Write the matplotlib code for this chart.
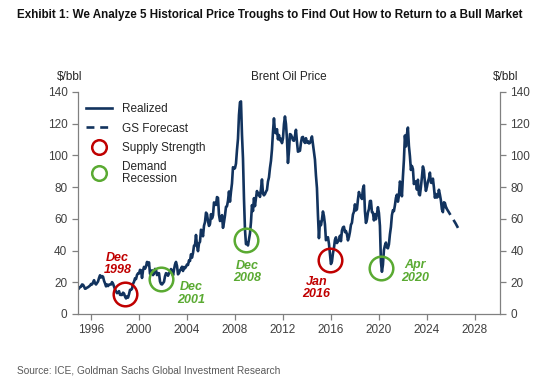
import numpy as np
import matplotlib.pyplot as plt
from matplotlib.lines import Line2D

# monthly Brent, Jan 1995 onwards ($/bbl)
brent_monthly = [
    16.2, 17.0, 17.2, 18.6, 18.4, 17.3, 15.9, 16.1, 16.6, 16.9, 17.4, 17.9,  # 1995
    18.9, 18.6, 19.8, 21.3, 19.3, 18.6, 19.6, 20.5, 22.7, 24.4, 23.0, 23.9,  # 1996
    23.5, 20.9, 19.3, 17.4, 18.6, 17.6, 18.5, 18.6, 18.6, 20.1, 19.1, 17.4,  # 1997
    15.5, 14.3, 13.1, 13.5, 14.4, 12.1, 12.0, 12.0, 13.4, 12.9, 11.0, 9.8,   # 1998
    11.1, 10.3, 12.5, 15.2, 15.2, 15.9, 19.0, 20.3, 22.5, 22.0, 24.6, 25.6,  # 1999
    25.5, 27.8, 27.5, 22.7, 27.4, 29.7, 28.5, 29.9, 32.8, 30.9, 32.5, 25.3,  # 2000
    25.6, 27.5, 24.5, 25.7, 28.4, 27.7, 24.5, 25.7, 25.7, 20.5, 18.9, 18.6,  # 2001
    19.4, 20.3, 23.7, 25.7, 25.4, 24.1, 25.7, 26.6, 28.3, 27.5, 24.3, 28.0,  # 2002
    31.2, 32.8, 30.3, 25.0, 25.8, 27.6, 28.4, 29.8, 27.1, 29.6, 28.8, 29.8,  # 2003
    31.2, 30.9, 33.8, 33.4, 37.6, 35.5, 38.4, 43.0, 43.3, 49.8, 43.1, 39.6,  # 2004
    44.5, 45.5, 53.1, 51.9, 49.0, 55.6, 57.9, 63.9, 63.0, 58.5, 55.5, 56.7,  # 2005
    62.9, 60.2, 62.1, 70.3, 69.8, 68.7, 73.7, 73.2, 62.5, 58.6, 59.3, 62.3,  # 2006
    54.3, 57.8, 62.1, 67.5, 67.9, 71.3, 77.2, 70.8, 77.1, 82.3, 92.5, 91.5,  # 2007
    91.9, 94.8, 103.3, 110.4, 125.4, 133.5, 134.0, 113.0, 98.1, 72.8, 53.2, 44.0,  # 2008
    44.9, 43.2, 46.8, 50.8, 57.9, 68.6, 64.9, 73.0, 68.0, 73.1, 77.5, 75.0,  # 2009
    76.2, 73.8, 78.8, 84.8, 75.9, 74.8, 75.6, 77.1, 78.2, 83.5, 86.1, 92.0,  # 2010
    96.5, 103.7, 114.6, 123.3, 114.5, 113.9, 116.5, 110.1, 112.8, 109.5, 110.5, 107.7,  # 2011
    110.6, 119.7, 124.5, 119.8, 110.3, 95.2, 102.6, 113.4, 113.0, 111.5, 109.5, 109.2,  # 2012
    112.3, 116.1, 108.5, 102.3, 102.6, 102.9, 107.9, 111.3, 111.6, 109.1, 107.8, 110.8,  # 2013
    108.1, 108.9, 107.5, 107.8, 109.7, 111.9, 106.9, 101.9, 97.3, 87.3, 79.4, 62.3,  # 2014
    47.8, 58.1, 55.9, 59.5, 64.6, 61.7, 56.5, 46.5, 47.6, 48.4, 44.3, 38.0,  # 2015
    31.5, 33.0, 38.2, 41.6, 46.7, 48.3, 44.7, 45.7, 46.6, 49.3, 45.9, 52.6,  # 2016
    54.6, 55.0, 51.6, 52.3, 50.3, 46.4, 48.5, 51.7, 56.2, 57.5, 62.7, 64.4,  # 2017
    69.1, 65.3, 66.0, 72.1, 76.9, 74.4, 74.3, 72.5, 78.9, 81.0, 64.8, 57.4,  # 2018
    59.4, 64.0, 66.1, 71.2, 71.3, 64.2, 63.9, 59.0, 62.8, 59.7, 63.2, 67.3,  # 2019
    63.7, 55.5, 33.0, 26.6, 31.0, 40.3, 43.2, 45.0, 41.9, 41.4, 43.9, 50.2,  # 2020
    54.8, 62.3, 65.4, 64.8, 68.5, 73.2, 75.2, 70.8, 74.5, 83.5, 81.1, 74.2,  # 2021
    86.5, 97.1, 112.5, 105.6, 113.3, 117.5, 105.9, 99.5, 90.8, 93.3, 91.4, 81.9,  # 2022
    83.5, 83.6, 78.4, 84.6, 75.5, 74.8, 80.1, 86.2, 93.0, 90.6, 82.9, 77.6,  # 2023
    80.1, 83.5, 85.4, 89.1, 82.8, 82.6, 85.3, 79.9, 73.3, 75.6, 73.4, 73.9,  # 2024
    78.3, 75.2, 71.6, 66.0, 64.2, 70.4, 70.0, 67.5,  # 2025
]
forecast_years = [2025.6, 2026.0, 2026.4, 2026.75]
forecast_values = [67.0, 62.0, 57.0, 52.0]

trough_labels = ["Dec\n1998", "Dec\n2001", "Dec\n2008", "Jan\n2016", "Apr\n2020"]
trough_kind = ["supply", "demand", "demand", "supply", "demand"]
trough_years = [1998.87, 2001.85, 2008.94, 2015.9, 2020.15]
trough_values = [12.6, 21.9, 46.7, 34.0, 28.8]
label_years = [1998.2, 2004.35, 2009.05, 2014.8, 2023.0]
label_values = [31.5, 13.0, 26.5, 16.4, 26.8]

NAVY = "#12335e"
RED = "#c00000"
GREEN = "#5aaa32"
GREY = "#808080"
TXT = "#404040"

plt.rcParams["font.family"] = ["Liberation Sans", "DejaVu Sans"]

years = 1995 + np.arange(len(brent_monthly)) / 12

fig = plt.figure(figsize=(5.6, 3.91), dpi=100)
ax = fig.add_axes([0.139, 0.197, 0.754, 0.568])

ax.plot(years, brent_monthly, color=NAVY, lw=1.9, solid_joinstyle="round")
ax.plot([years[-1]] + forecast_years, [brent_monthly[-1]] + forecast_values,
        color=NAVY, lw=1.9, ls=(0, (3.5, 2.2)))

for x, y, k in zip(trough_years, trough_values, trough_kind):
    ax.plot(x, y, "o", ms=17, mfc="none", mec=RED if k == "supply" else GREEN, mew=1.8)
for x, y, t, k in zip(label_years, label_values, trough_labels, trough_kind):
    ax.text(x, y, t, ha="center", va="center", fontsize=9, fontweight="bold",
            style="italic", color=RED if k == "supply" else GREEN, linespacing=1.05)

ax.set_xlim(1994.9, 2030.1)
ax.set_ylim(0, 140)
ax.set_xticks(range(1996, 2029, 4))
ax.set_yticks(range(0, 141, 20))
ax.spines["top"].set_visible(False)
for s in ("left", "right", "bottom"):
    ax.spines[s].set_color(GREY)
    ax.spines[s].set_linewidth(0.9)
ax.tick_params(colors=GREY, labelcolor=TXT, labelsize=8.5, length=4, width=0.9)
ax.tick_params(axis="y", right=True, labelright=True)

ax.text(0.5, 1.065, "Brent Oil Price", transform=ax.transAxes, ha="center",
        va="center", fontsize=8.5, color="#262626")
ax.text(-0.02, 1.065, "$/bbl", transform=ax.transAxes, ha="center",
        va="center", fontsize=8.5, color="#262626")
ax.text(1.012, 1.065, "$/bbl", transform=ax.transAxes, ha="center",
        va="center", fontsize=8.5, color="#262626")

handles = [
    Line2D([], [], color=NAVY, lw=1.9),
    Line2D([], [], color=NAVY, lw=1.9, ls=(0, (3, 2.2))),
    Line2D([], [], ls="none", marker="o", ms=10.5, mfc="none", mec=RED, mew=1.8),
    Line2D([], [], ls="none", marker="o", ms=10.5, mfc="none", mec=GREEN, mew=1.8),
]
leg = ax.legend(handles, ["Realized", "GS Forecast", "Supply Strength", "Demand\nRecession"],
                loc="upper left", bbox_to_anchor=(0.0, 0.985), frameon=False,
                fontsize=8.5, handlelength=2.2, handletextpad=0.8, labelspacing=0.6,
                borderaxespad=0.3)
for t in leg.get_texts():
    t.set_color("#262626")
    t.set_linespacing(1.0)

title = fig.text(0.03, 0.962,
                 "Exhibit 1: We Analyze 5 Historical Price Troughs to Find Out How to Return to a Bull Market",
                 ha="left", va="center", fontsize=10.5, fontweight="bold", color="#111111")
source = fig.text(0.03, 0.052, "Source: ICE, Goldman Sachs Global Investment Research",
                  ha="left", va="center", fontsize=8, color="#595959")

# no condensed face installed: shrink to the reference widths instead
renderer = fig.canvas.get_renderer()
for txt, width_px in ((title, 505), (source, 263)):
    w = txt.get_window_extent(renderer).width
    txt.set_fontsize(txt.get_fontsize() * width_px / w)

fig.savefig("out.png", dpi=100)
